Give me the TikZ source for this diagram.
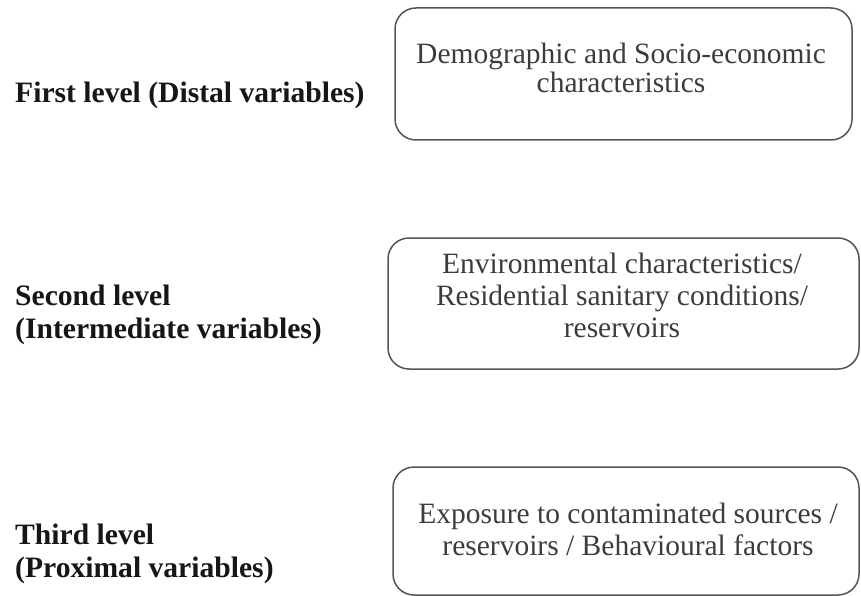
\documentclass[tikz,border=0pt]{standalone}
\usepackage{fontspec}
\setmainfont{Liberation Serif}
\definecolor{boxline}{HTML}{545454}
\definecolor{boxink}{HTML}{3C3C3C}
\definecolor{labelink}{HTML}{161616}
\begin{document}
\begin{tikzpicture}[x=1pt,y=-1pt,
  levelbox/.style={draw=boxline, line width=1.5pt, rounded corners=21pt, fill=none},
  boxtext/.style={inner sep=0pt, align=center, anchor=north, text=boxink,
    font=\fontsize{29.5}{32}\selectfont},
  leveltext/.style={inner sep=0pt, align=left, anchor=north west, text=labelink,
    font=\fontsize{29.6}{33}\selectfont\bfseries}]
  \useasboundingbox (0,0) rectangle (861,596);
  \begin{scope}
    \clip (0,0) rectangle (861,596);
    % the three boxes
    \draw[levelbox] (395,8) rectangle (852,140);
    \draw[levelbox] (388,238) rectangle (859,369);
    \draw[levelbox] (393,467) rectangle (859,595);
  \end{scope}
  % box texts
  \node[boxtext, font=\fontsize{29.5}{29}\selectfont] (t1) at (621,42.5)
    {Demographic and Socio-economic\\characteristics};
  \node[boxtext] (t2) at (622,252.5)
    {Environmental characteristics/\\Residential sanitary conditions/\\reservoirs};
  \node[boxtext] (t3) at (628,502.5)
    {Exposure to contaminated sources /\\reservoirs / Behavioural factors};
  % level labels
  \node[leveltext] (l1) at (15,81.5) {First level (Distal variables)};
  \node[leveltext] (l2) at (15,284.5) {Second level\\(Intermediate variables)};
  \node[leveltext] (l3) at (15,523.5) {Third level\\(Proximal variables)};
\end{tikzpicture}
\end{document}
